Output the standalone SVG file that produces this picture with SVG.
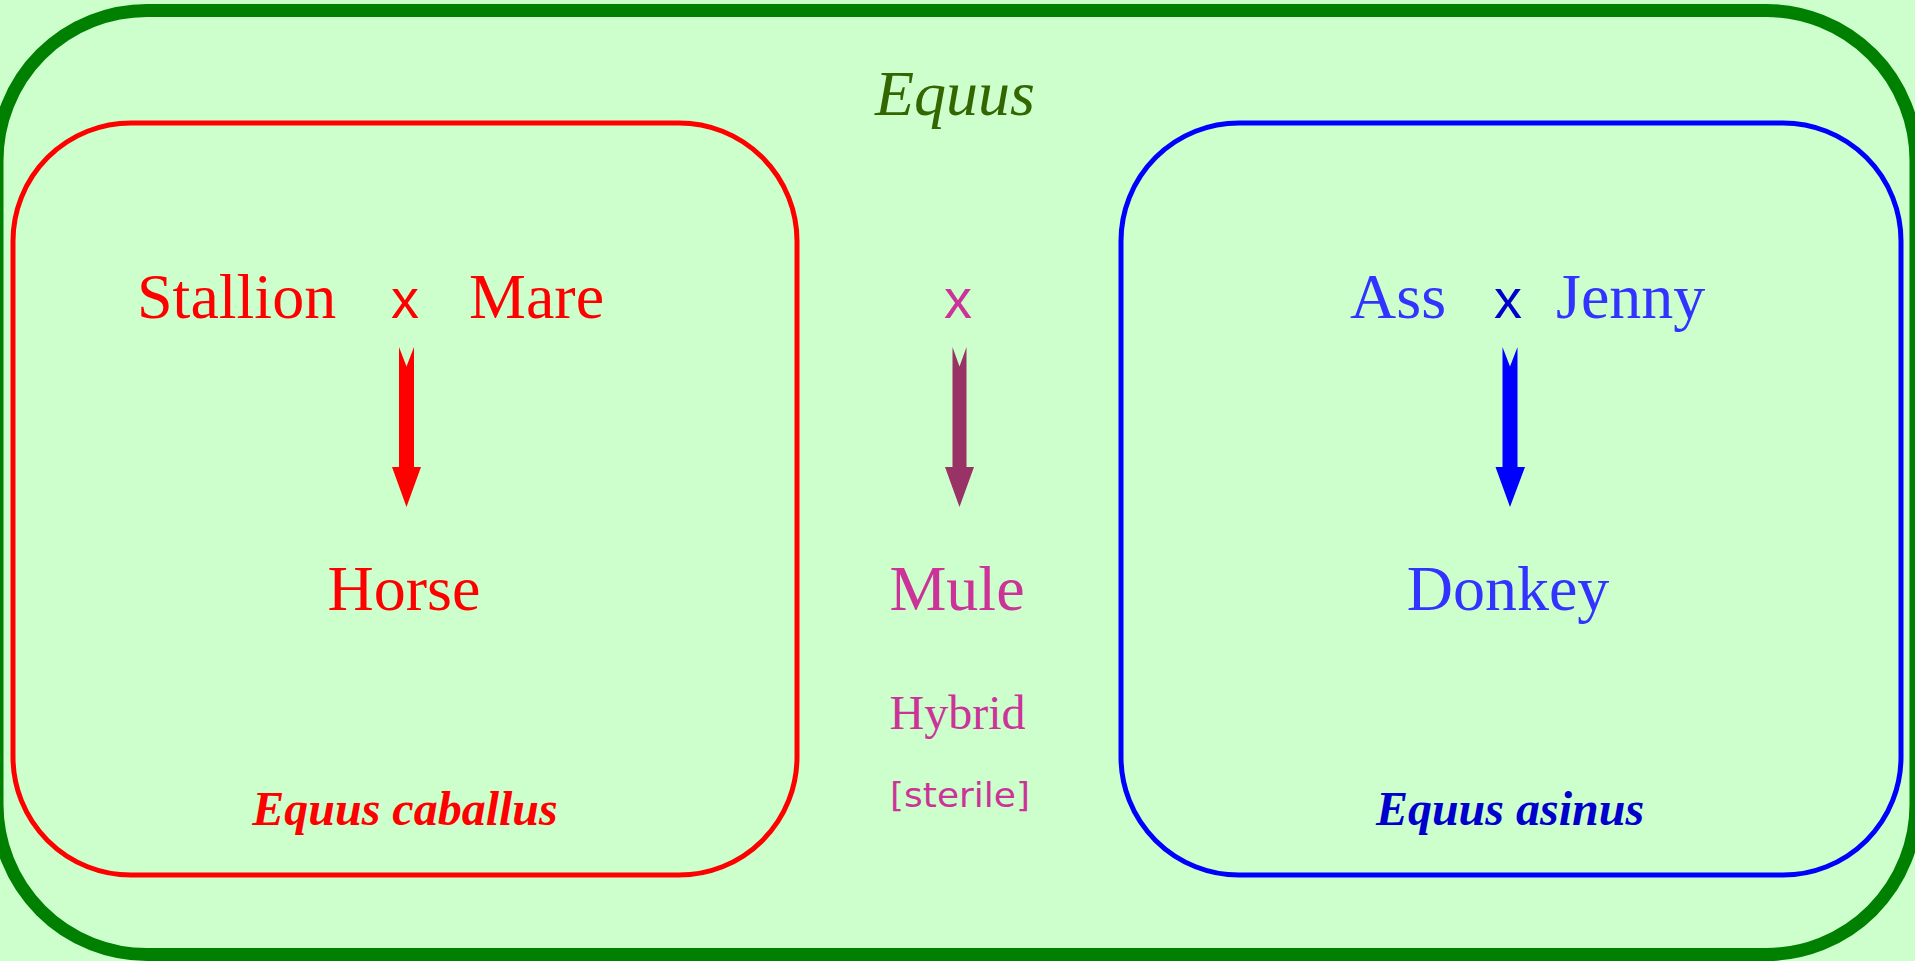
<svg xmlns="http://www.w3.org/2000/svg" width="1915" height="961" viewBox="0 0 1915 961">
<style>
.serif{font-family:"Liberation Serif","Times New Roman",serif;}
.sans{font-family:"Liberation Sans",Arial,sans-serif;}
.big{font-size:64px;}
.lab{font-size:48px;font-weight:bold;font-style:italic;}
.box{fill:none;stroke-width:5;}
</style>
<rect x="0" y="0" width="1915" height="961" fill="#CCFFCC"/>
<g id="genus">
<rect x="-3" y="10.5" width="1919" height="944" rx="150" ry="150" fill="none" stroke="#008000" stroke-width="13"/>
<text class="serif" x="955" y="115" font-size="64" font-style="italic" fill="#336600" text-anchor="middle">Equus</text>
</g>
<g id="caballus">
<rect class="box" x="13" y="123" width="784" height="752" rx="118" ry="118" stroke="#FF0000"/>
<text class="serif big" x="137" y="318" fill="#FF0000">Stallion</text>
<text class="sans" x="405" y="318" font-size="56" fill="#FF0000" text-anchor="middle">x</text>
<text class="serif big" x="469" y="318" fill="#FF0000">Mare</text>
<text class="serif big" x="404" y="610" fill="#FF0000" text-anchor="middle">Horse</text>
<text class="serif lab" x="405" y="825" fill="#FF0000" text-anchor="middle">Equus caballus</text>
</g>
<g id="hybrid">
<text class="sans" x="958" y="318" font-size="56" fill="#CC3399" text-anchor="middle">x</text>
<text class="serif big" x="957" y="610" fill="#CC3399" text-anchor="middle">Mule</text>
<text class="serif" x="957.5" y="729" font-size="48" fill="#CC3399" text-anchor="middle">Hybrid</text>
<text x="960" y="807" font-size="33" fill="#CC3399" text-anchor="middle" textLength="140" lengthAdjust="spacingAndGlyphs" style="font-family:'Comic Sans MS','DejaVu Sans',sans-serif">[sterile]</text>
</g>
<g id="asinus">
<rect class="box" x="1121" y="123" width="780" height="752" rx="118" ry="118" stroke="#0000FF"/>
<text class="serif big" x="1350" y="318" fill="#3333FF">Ass</text>
<text class="sans" x="1508" y="318" font-size="56" fill="#0000CC" text-anchor="middle">x</text>
<text class="serif big" x="1556" y="318" fill="#3333FF">Jenny</text>
<text class="serif big" x="1508" y="610" fill="#3333FF" text-anchor="middle">Donkey</text>
<text class="serif lab" x="1510" y="825" fill="#0000CC" text-anchor="middle">Equus asinus</text>
</g>
<g id="connectors">
<polygon points="399,347 406.5,366.5 414,347 414,467 421,467 406.5,507 392,467 399,467" fill="#FF0000"/>
<polygon points="952.5,347 959.5,366.5 966.5,347 966.5,467 974,467 959.5,507 945,467 952.5,467" fill="#993366"/>
<polygon points="1502.5,347 1510,366.5 1517.5,347 1517.5,467 1525,467 1510,507 1495.5,467 1502.5,467" fill="#0000FF"/>
</g>
</svg>
